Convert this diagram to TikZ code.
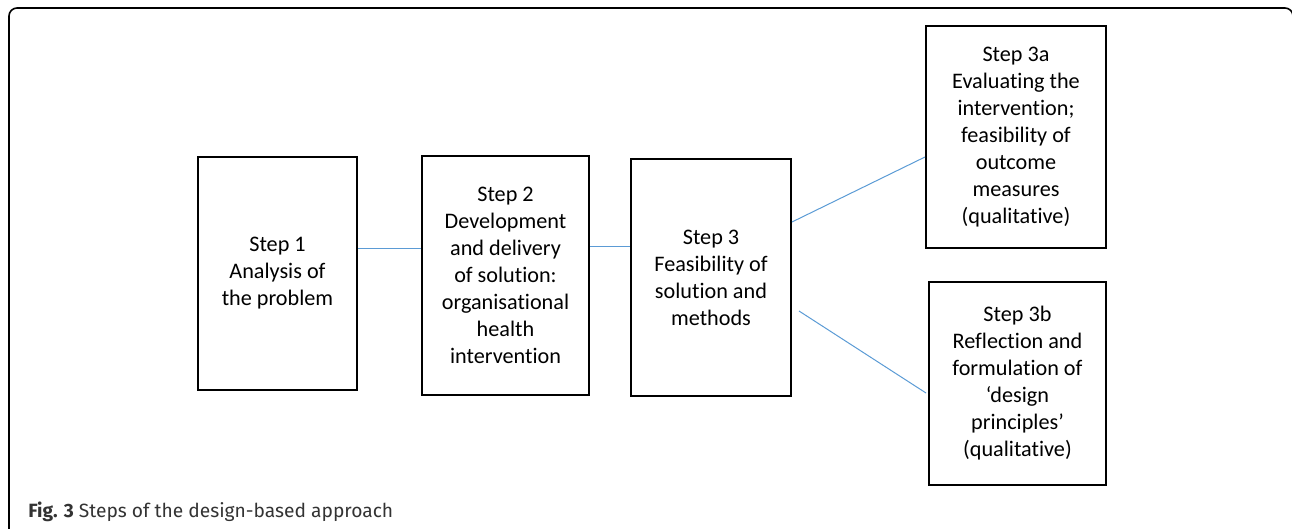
\documentclass[tikz,border=0pt]{standalone}
\usepackage{fontspec}
\setmainfont[Ligatures=NoCommon]{Carlito}
\newfontfamily\capfont{Fira Sans}
\definecolor{linkblue}{HTML}{5B9BD5}
\tikzset{
  stepbox/.style={draw=black, line width=1pt, inner sep=0pt, align=center,
                  font=\fontsize{11.1}{13.5}\selectfont},
  link/.style={draw=linkblue, line width=0.5pt}
}
\begin{document}
\begin{tikzpicture}[x=0.5pt, y=-0.5pt]

                    \useasboundingbox (0,0) rectangle (1292,529);
                    \clip (0,0) rectangle (1292,529);
                    % frame
                    \draw[line width=0.8pt, rounded corners=4pt] (9,540) -- (9,8) -- (1293,8) -- (1293,540);

                    \node[stepbox, minimum width=79.5pt, minimum height=116.5pt] (b1) at (277.5,273.5)
                        {Step 1\\Analysis of\\the problem};
                    \node[stepbox, minimum width=83.5pt, minimum height=119.5pt] (b2) at (505.5,275.5)
                        {Step 2\\Development\\and delivery\\of solution:\\organisational\\health\\intervention};
                    \node[stepbox, minimum width=80pt, minimum height=118.5pt] (b3) at (711,277.5)
                        {Step 3\\Feasibility of\\solution and\\methods};
                    \node[stepbox, minimum width=90pt, minimum height=111pt] (b3a) at (1016,137)
                        {Step 3a\\Evaluating the\\intervention;\\feasibility of\\outcome\\measures\\(qualitative)};
                    \node[stepbox, minimum width=88.5pt, minimum height=101.5pt] (b3b) at (1017.5,383.5)
                        {Step 3b\\Reflection and\\formulation of\\‘design\\principles’\\(qualitative)};

                    \draw[link] (b1.east |- 0,249) -- (b2.west |- 0,249);
                    \draw[link] (b2.east |- 0,247) -- (b3.west |- 0,247);
                    \draw[link] (b3.east |- 0,222) -- (b3a.west |- 0,157);
                    \draw[link] ([xshift=3.5pt]b3.east |- 0,311) -- ([xshift=-1pt]b3b.west |- 0,393);

                    \node[anchor=base west, inner sep=0pt, text=black!80, font=\capfont\fontsize{9.6}{11}\selectfont] (cap) at (28,517)
                        {\textbf{Fig. 3} Steps of the design-based approach};
                \end{tikzpicture}
\end{document}
